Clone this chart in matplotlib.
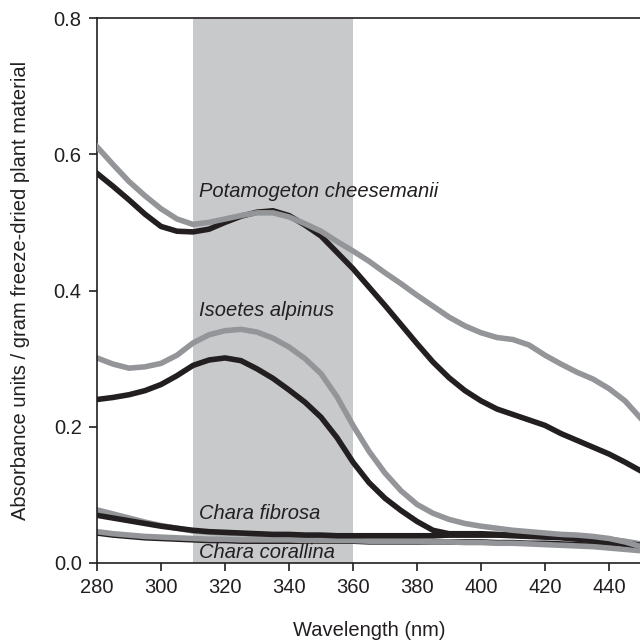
import matplotlib
matplotlib.use("Agg")
import matplotlib.pyplot as plt

plt.rcParams['font.family'] = ['Liberation Sans', 'DejaVu Sans']

# wavelengths (nm), 5 nm steps
wl = list(range(280, 455, 5))

# Potamogeton cheesemanii
pot_black = [0.572, 0.553, 0.533, 0.512, 0.494, 0.487, 0.486, 0.490, 0.500, 0.509,
             0.515, 0.517, 0.510, 0.496, 0.480, 0.456, 0.432, 0.405, 0.378, 0.350,
             0.322, 0.295, 0.272, 0.253, 0.238, 0.226, 0.218, 0.210, 0.202, 0.190,
             0.180, 0.170, 0.160, 0.148, 0.135]
pot_grey = [0.611, 0.585, 0.560, 0.539, 0.520, 0.505, 0.497, 0.500, 0.505, 0.510,
            0.514, 0.514, 0.508, 0.498, 0.487, 0.472, 0.458, 0.443, 0.426, 0.410,
            0.393, 0.377, 0.361, 0.348, 0.338, 0.331, 0.328, 0.320, 0.305, 0.292,
            0.280, 0.270, 0.256, 0.238, 0.212]

# Isoetes alpinus
iso_black = [0.240, 0.243, 0.247, 0.253, 0.262, 0.275, 0.290, 0.298, 0.301, 0.297,
             0.285, 0.271, 0.254, 0.236, 0.214, 0.184, 0.148, 0.118, 0.095, 0.077,
             0.061, 0.048, 0.043, 0.043, 0.043, 0.042, 0.041, 0.040, 0.039, 0.038,
             0.036, 0.034, 0.032, 0.029, 0.026]
iso_grey = [0.301, 0.292, 0.286, 0.288, 0.293, 0.305, 0.323, 0.335, 0.341, 0.343,
            0.339, 0.330, 0.317, 0.300, 0.278, 0.244, 0.202, 0.164, 0.132, 0.106,
            0.086, 0.073, 0.064, 0.058, 0.054, 0.051, 0.048, 0.046, 0.044, 0.042,
            0.041, 0.039, 0.036, 0.031, 0.024]

# Chara fibrosa
fib_black = [0.070, 0.066, 0.062, 0.058, 0.054, 0.051, 0.048, 0.046, 0.045, 0.044,
             0.043, 0.042, 0.042, 0.041, 0.041, 0.040, 0.040, 0.040, 0.040, 0.040,
             0.040, 0.040, 0.041, 0.041, 0.041, 0.041, 0.040, 0.039, 0.038, 0.037,
             0.035, 0.033, 0.031, 0.028, 0.025]
fib_grey = [0.078, 0.072, 0.066, 0.060, 0.055, 0.051, 0.047, 0.045, 0.044, 0.043,
            0.042, 0.041, 0.041, 0.040, 0.040, 0.040, 0.040, 0.040, 0.040, 0.040,
            0.040, 0.040, 0.041, 0.041, 0.041, 0.041, 0.041, 0.040, 0.040, 0.039,
            0.038, 0.037, 0.035, 0.032, 0.028]

# Chara corallina
cor_grey = [0.046, 0.043, 0.041, 0.039, 0.038, 0.037, 0.036, 0.035, 0.035, 0.034,
            0.034, 0.034, 0.034, 0.033, 0.033, 0.033, 0.033, 0.032, 0.032, 0.032,
            0.032, 0.031, 0.031, 0.030, 0.030, 0.029, 0.029, 0.028, 0.027, 0.026,
            0.025, 0.024, 0.022, 0.020, 0.018]
cor_black = [0.044, 0.041, 0.039, 0.037, 0.036, 0.035, 0.034, 0.033, 0.033, 0.032,
             0.032, 0.032, 0.032, 0.032, 0.032, 0.032, 0.032, 0.031, 0.031, 0.031,
             0.031, 0.031, 0.031, 0.031, 0.031, 0.030, 0.030, 0.029, 0.029, 0.028,
             0.027, 0.026, 0.025, 0.023, 0.021]

uv_band = (310, 360)

labels = ["Potamogeton cheesemanii", "Isoetes alpinus", "Chara fibrosa", "Chara corallina"]
label_y = [0.545, 0.371, 0.073, 0.015]

black = "#231f20"
grey = "#939598"
fs = 14.5
lw = 4.0

fig = plt.figure(figsize=(6.4, 6.44), dpi=100)
ax = fig.add_axes([97 / 640, 81 / 644, 544 / 640, 545 / 644])

ax.axvspan(uv_band[0], uv_band[1], color="#c8c9cb", lw=0, zorder=0)

ax.plot(wl, cor_black, color=black, lw=lw, zorder=2)
ax.plot(wl, cor_grey, color=grey, lw=lw, zorder=2.1)
ax.plot(wl, fib_grey, color=grey, lw=lw, zorder=2.2)
ax.plot(wl, fib_black, color=black, lw=lw, zorder=2.3)
ax.plot(wl, iso_black, color=black, lw=lw, zorder=2.4)
ax.plot(wl, iso_grey, color=grey, lw=lw, zorder=2.5)
ax.plot(wl, pot_black, color=black, lw=lw, zorder=2.6)
ax.plot(wl, pot_grey, color=grey, lw=lw, zorder=2.7)

for lab, y in zip(labels, label_y):
    ax.text(312, y, lab, style="italic", fontsize=fs, color=black, va="center", ha="left", zorder=3)

ax.set_xlim(280, 450)
ax.set_ylim(0, 0.8)
ax.set_xticks(range(280, 450, 20))
ax.set_yticks([0.0, 0.2, 0.4, 0.6, 0.8])
ax.set_yticklabels(["0.0", "0.2", "0.4", "0.6", "0.8"])
ax.spines["right"].set_visible(False)
for s in ["left", "bottom", "top"]:
    ax.spines[s].set_color(black)
    ax.spines[s].set_linewidth(1.2)
ax.tick_params(direction="out", length=6, width=1.2, colors=black, labelsize=fs, pad=5)
ax.tick_params(axis="x", pad=5)

ax.set_xlabel("Wavelength (nm)", fontsize=fs, color=black, labelpad=17)
ax.set_ylabel("Absorbance units / gram freeze-dried plant material", fontsize=fs, color=black, labelpad=17)

fig.savefig("out.png", dpi=100)
